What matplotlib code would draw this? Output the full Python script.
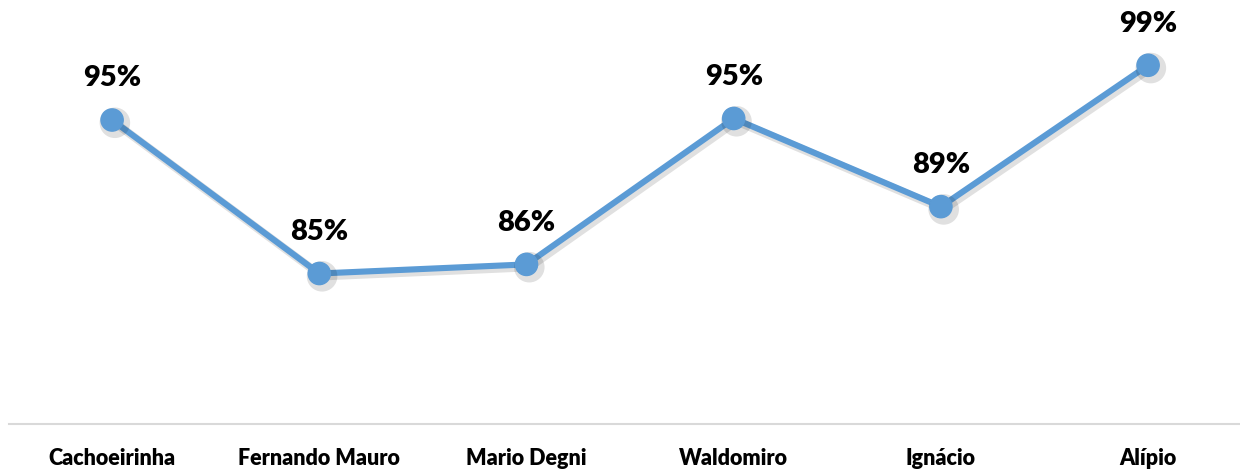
import matplotlib
matplotlib.use("Agg")
import matplotlib.pyplot as plt
import matplotlib.patheffects as pe

# scores per unit
categories = ["Cachoeirinha", "Fernando Mauro", "Mario Degni", "Waldomiro", "Ignácio", "Alípio"]
scores = [0.950, 0.849, 0.855, 0.951, 0.893, 0.986]

blue = "#5B9BD5"
plt.rcParams["font.family"] = ["Lato", "DejaVu Sans"]

fig = plt.figure(figsize=(12.4, 4.71), dpi=100)
ax = fig.add_axes([8.5 / 1240, 47 / 471, 1231.5 / 1240, 424 / 471])

x = list(range(len(categories)))
line, = ax.plot(x, scores, color=blue, linewidth=4.4, marker="o", markersize=16,
                markeredgecolor=blue, solid_capstyle="round", zorder=3)
line.set_path_effects([
    pe.SimpleLineShadow(offset=(2, -2), shadow_color="black", alpha=0.12, linewidth=6),
    pe.Normal(),
])

for xi, v in zip(x, scores):
    ax.annotate(f"{v:.0%}", (xi, v), xytext=(0, 30), textcoords="offset points",
                ha="center", va="center", fontsize=21, fontweight="heavy", color="black")

ax.set_xlim(-0.5, 1231.5 / 207.2 - 0.5)
ax.set_ylim(0.75, 0.75 + 424 / 1520)
ax.set_xticks(x)
ax.set_xticklabels(categories, fontsize=15.5, fontweight="heavy")
ax.tick_params(axis="x", length=0, pad=17)
ax.set_yticks([])
for side in ["top", "left", "right"]:
    ax.spines[side].set_visible(False)
ax.spines["bottom"].set_color("#D9D9D9")
ax.spines["bottom"].set_linewidth(1.5)

fig.savefig("out.png", dpi=100)
